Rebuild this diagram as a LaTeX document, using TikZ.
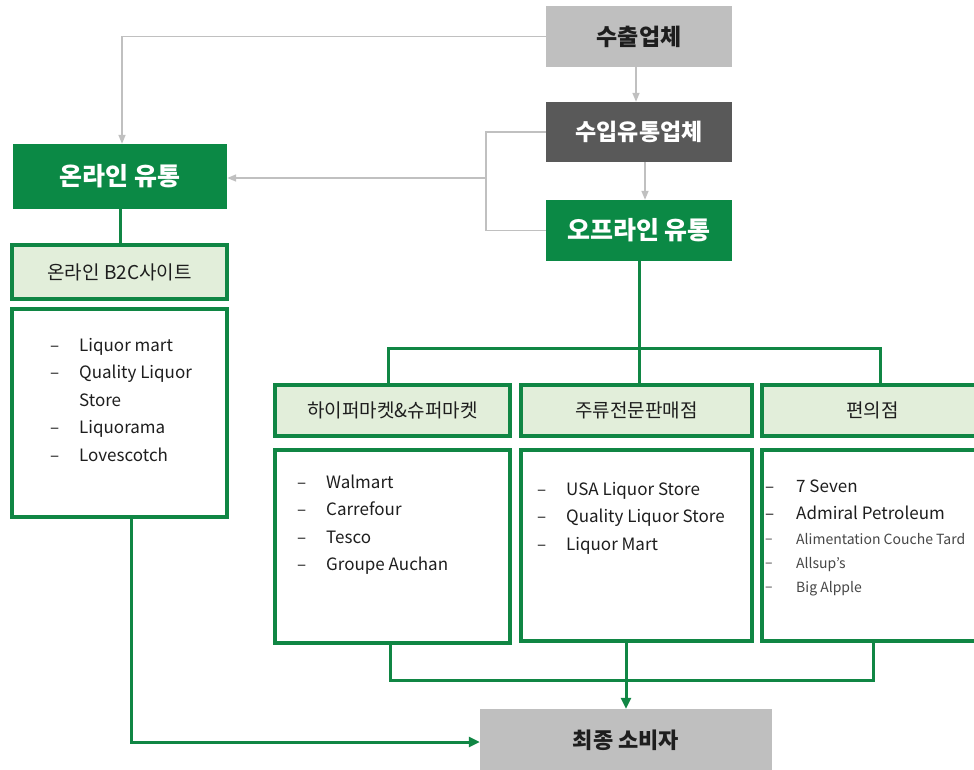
\documentclass[tikz,border=0pt]{standalone}
\usepackage{fontspec}
\setmainfont{Noto Sans CJK KR}
\usetikzlibrary{arrows.meta}
\definecolor{gr}{RGB}{16,134,68}
\definecolor{grfill}{RGB}{11,137,69}
\definecolor{hdfill}{RGB}{226,238,218}
\definecolor{lgray}{RGB}{191,191,191}
\definecolor{dgray}{RGB}{89,89,89}
\definecolor{conn}{RGB}{192,192,192}
\definecolor{txt}{RGB}{30,30,30}
\definecolor{txtlight}{RGB}{70,70,70}
\begin{document}
\begin{tikzpicture}[x=1pt,y=-1pt,
  box/.style={rectangle, inner sep=0pt, align=center},
  greenbox/.style={box, fill=grfill, text=white, font=\fontsize{25}{28}\selectfont\bfseries},
  graybox/.style={box, fill=lgray, text=txt, font=\fontsize{23}{26}\selectfont\bfseries},
  darkbox/.style={box, fill=dgray, text=white, font=\fontsize{23}{26}\selectfont\bfseries},
  headbox/.style={box, fill=hdfill, draw=gr, line width=4pt, text=txt, font=\fontsize{19}{22}\selectfont},
  listbox/.style={box, fill=white, draw=gr, line width=4pt},
  listtext/.style={inner sep=0pt, anchor=base west, text=txt, font=\fontsize{17}{27.5}\selectfont},
  smalltext/.style={inner sep=0pt, anchor=base west, text=txtlight, font=\fontsize{14}{24}\selectfont},
  grayline/.style={draw=conn, line width=1.5pt},
  grayarrow/.style={grayline, -{Triangle[length=9pt,width=7pt]}},
  greenline/.style={draw=gr, line width=3pt},
  greenarrow/.style={greenline, -{Triangle[length=11pt,width=10pt]}}
]
\useasboundingbox (0,0) rectangle (974,769);
\fill[white] (0,0) rectangle (974,769);

% top boxes
\node[graybox, minimum width=186pt, minimum height=61pt] (exp) at (639,36.5) {수출업체};
\node[darkbox, minimum width=186pt, minimum height=60pt] (imp) at (639,132) {수입유통업체};
\node[greenbox, minimum width=186pt, minimum height=61pt] (off) at (639,230.5) {오프라인 유통};
\node[greenbox, minimum width=214pt, minimum height=65pt] (on) at (120,176.5) {온라인 유통};

% online column
\node[headbox, minimum width=215pt, minimum height=54pt] (b2c) at (119.5,272) {온라인 B2C사이트};
\node[listbox, minimum width=215pt, minimum height=208pt] (onlist) at (119.5,413) {};

% offline headers
\node[headbox, minimum width=235pt, minimum height=51pt] (hyh) at (392.5,410.5) {하이퍼마켓\&슈퍼마켓};
\node[headbox, minimum width=231pt, minimum height=51pt] (juh) at (636.5,410.5) {주류전문판매점};
\node[headbox, minimum width=221pt, minimum height=51pt] (cvh) at (872.5,410.5) {편의점};

% offline lists
\node[listbox, minimum width=235pt, minimum height=193pt] (hyl) at (392.5,546.5) {};
\node[listbox, minimum width=231pt, minimum height=191pt] (jul) at (636.5,545.5) {};
\node[listbox, minimum width=221pt, minimum height=191pt] (cvl) at (872.5,545.5) {};

% final consumer
\node[graybox, minimum width=292pt, minimum height=62pt, font=\fontsize{22}{26}\selectfont\bfseries] (con) at (626,740) {최종 소비자};

% list texts
\node[listtext] (onitems) at (50,351) {\begin{tabular}[t]{@{}p{29pt}@{}l@{}}
–&Liquor mart\\ –&Quality Liquor\\ &Store\\ –&Liquorama\\ –&Lovescotch\end{tabular}};
\node[listtext] (hyitems) at (297,488) {\begin{tabular}[t]{@{}p{29pt}@{}l@{}}
–&Walmart\\ –&Carrefour\\ –&Tesco\\ –&Groupe Auchan\end{tabular}};
\node[listtext] (juitems) at (537,495) {\begin{tabular}[t]{@{}p{29pt}@{}l@{}}
–&USA Liquor Store\\ –&Quality Liquor Store\\ –&Liquor Mart\end{tabular}};
\node[listtext] (cvitems) at (765,492) {\begin{tabular}[t]{@{}p{31pt}@{}l@{}}
–&7 Seven\\ –&Admiral Petroleum\end{tabular}};
\node[smalltext] (cvsmall) at (765,544) {\begin{tabular}[t]{@{}p{31pt}@{}l@{}}
\raisebox{1pt}{–}&Alimentation Couche Tard\\ \raisebox{1pt}{–}&Allsup's\\ \raisebox{1pt}{–}&Big Alpple\end{tabular}};

% gray connectors
\draw[grayarrow] (exp.west) -| ([xshift=2pt]on.north);
\draw[grayarrow] ([xshift=-3pt]exp.south) -- ([xshift=-3pt]imp.north);
\draw[grayarrow] ([xshift=6pt]imp.south) -- ([xshift=6pt]off.north);
\coordinate (bx) at (486,178);
\draw[grayline] (imp.west) -| (bx) |- (off.west);
\draw[grayarrow] (bx) -- (on.east |- bx);

% green connectors
\draw[greenline] (on.south) -- (on.south |- b2c.north);
\draw[greenline] (off.south) -- (off.south |- juh.north);
\coordinate (brL) at (388,348);
\coordinate (brR) at (880,348);
\draw[greenline] (brL |- hyh.north) -- (brL) -- (brR) -- (brR |- cvh.north);
\coordinate (bbL) at (390,680);
\coordinate (bbR) at (873,680);
\draw[greenline] (bbL |- hyl.south) -- (bbL) -- (bbR) -- (bbR |- cvl.south);
\draw[greenarrow] (jul.south -| con.north) -- (con.north);
\coordinate (ax) at (131,742);
\draw[greenarrow] (ax |- onlist.south) -- (ax) -- (con.west |- ax);
\end{tikzpicture}
\end{document}
